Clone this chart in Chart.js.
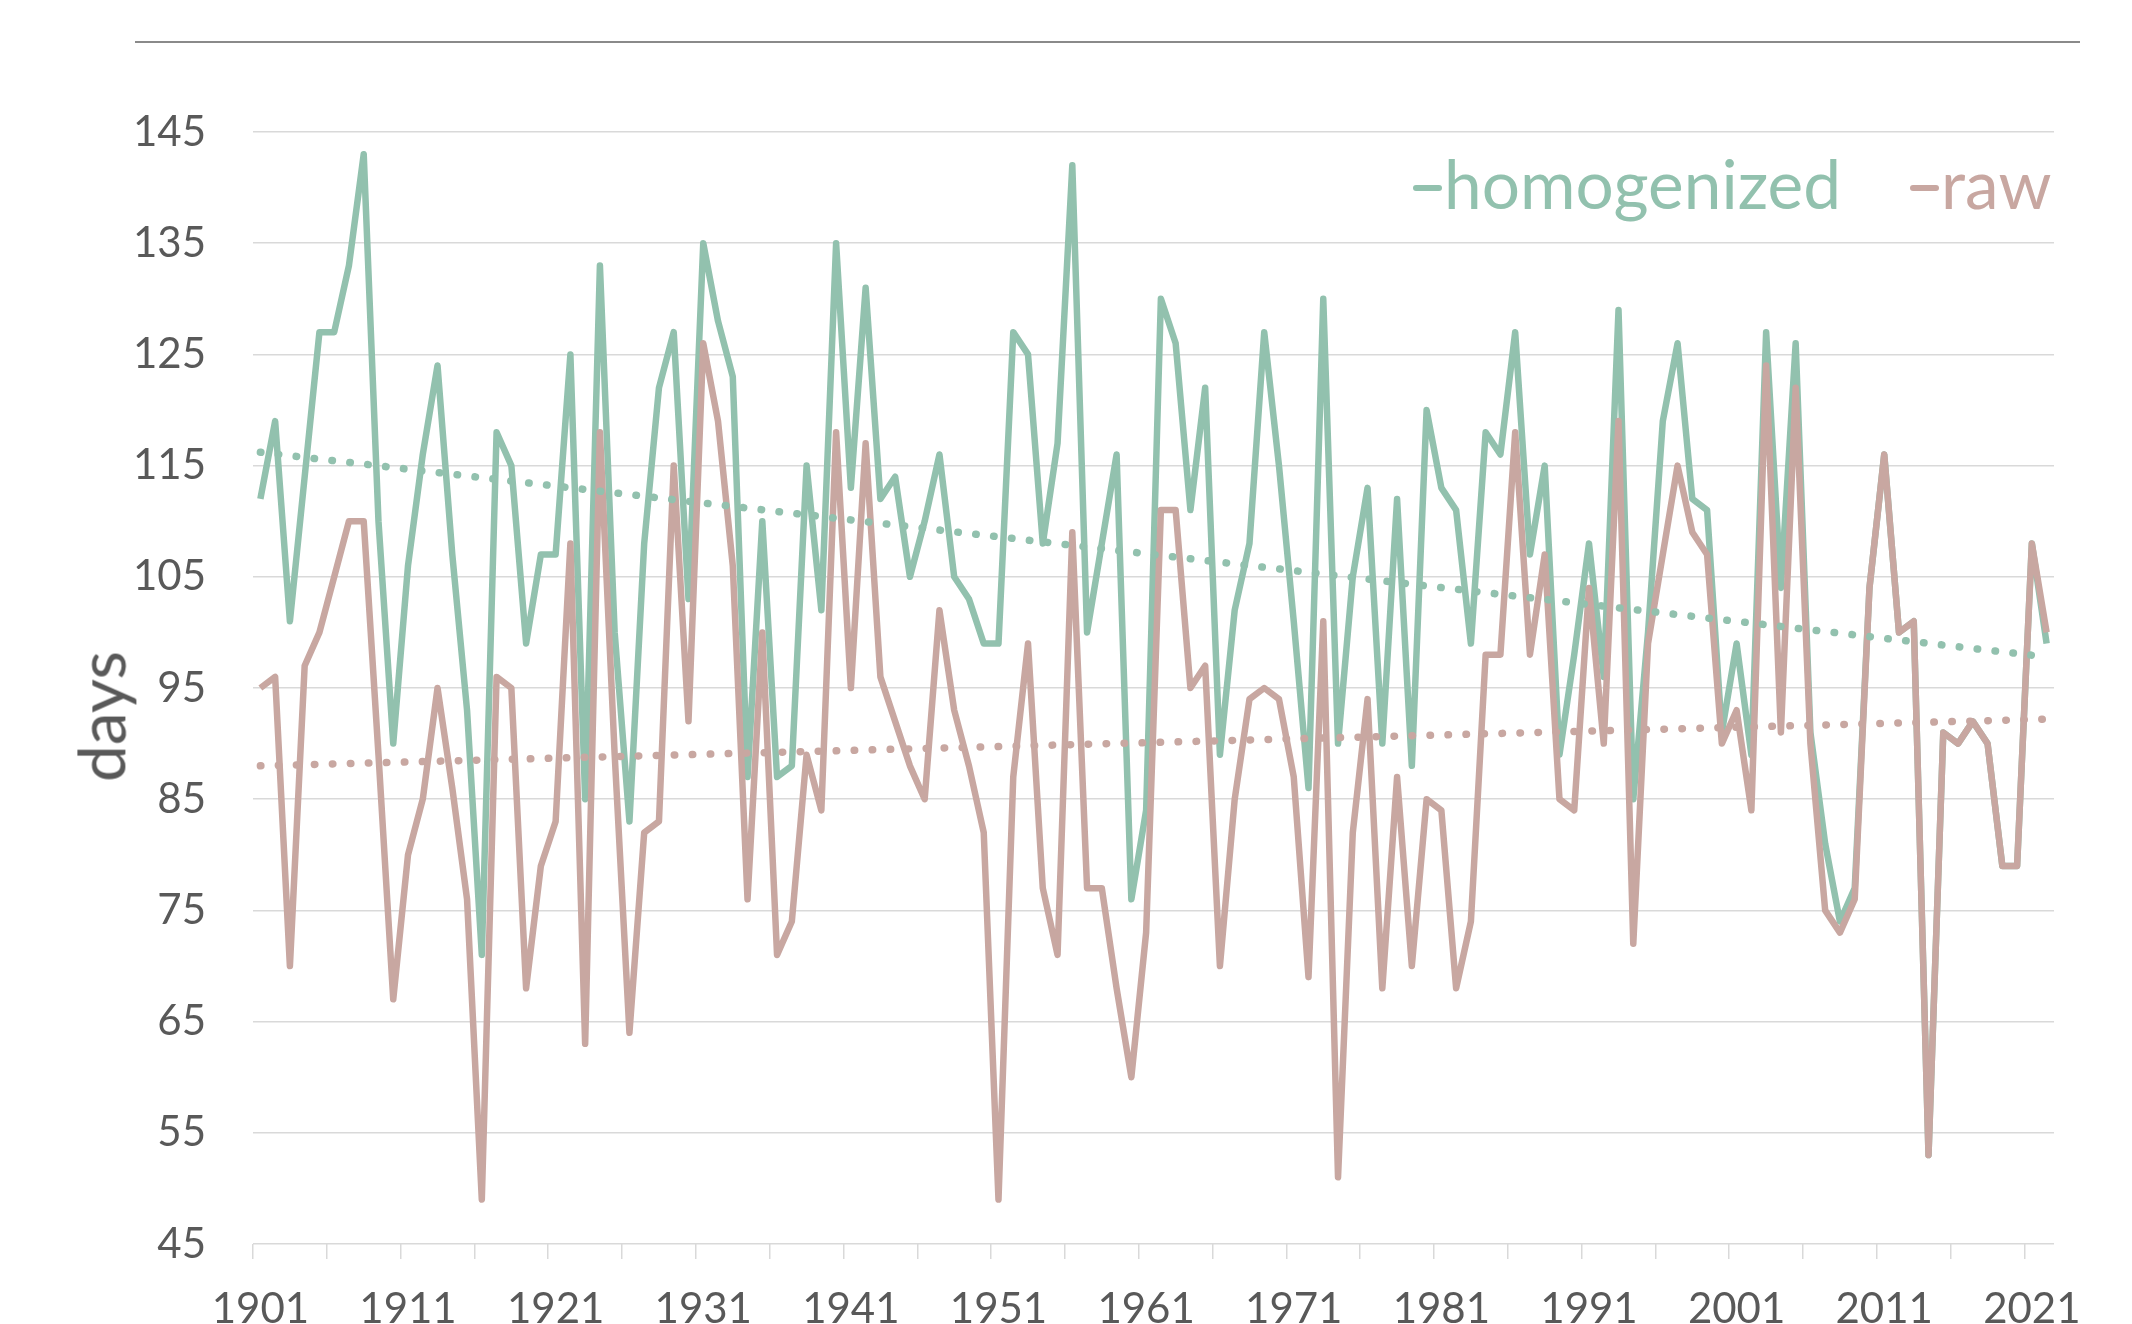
<!DOCTYPE html>
<html>
<head>
<meta charset="utf-8">
<title>days – homogenized vs raw</title>
<script src="https://cdn.jsdelivr.net/npm/chart.js@4.4.1/dist/chart.umd.min.js"></script>
<style>
    body { margin: 0; background: #ffffff; font-family: Lato, sans-serif; }
    #wrap { position: relative; width: 2132px; height: 1324px; overflow: hidden; }
    #topRule { position: absolute; left: 135px; top: 41px; width: 1945px; height: 2px; background: #8a8a8a; }
    .legendItem { position: absolute; top: 149px; font-size: 67.5px; line-height: 67.5px; white-space: nowrap; }
    .legendItem .dash { display: inline-block; width: 29px; height: 6px; border-radius: 3px; margin: 0 2px 18px 0; vertical-align: baseline; }
    #yTitle { position: absolute; left: 0px; top: 677px; width: 200px; font-size: 66px; line-height: 1.2; text-align: center; color: #595959; transform: rotate(-90deg); }
</style>
</head>
<body>
<div id="wrap">
    <div id="topRule"></div>
    <canvas id="daysChart" width="2132" height="1324"></canvas>
    <div id="yTitle">days</div>
    <div id="legend"></div>
</div>
<script>
const years = Array.from({ length: 122 }, (_, i) => String(1901 + i));

const homogenized = [
    112, 119, 101, 114, 127, 127, 133, 143, 110, 90,
    106, 116, 124, 107, 93, 71, 118, 115, 99, 107,
    107, 125, 85, 133, 100, 83, 108, 122, 127, 103,
    135, 128, 123, 87, 110, 87, 88, 115, 102, 135,
    113, 131, 112, 114, 105, 110, 116, 105, 103, 99,
    99, 127, 125, 108, 117, 142, 100, 108, 116, 76,
    84, 130, 126, 111, 122, 89, 102, 108, 127, 115,
    101, 86, 130, 90, 105, 113, 90, 112, 88, 120,
    113, 111, 99, 118, 116, 127, 107, 115, 89, 98,
    108, 96, 129, 85, 100, 119, 126, 112, 111, 91,
    99, 89, 127, 104, 126, 91, 81, 74, 77, 104,
    116, 100, 101, 53, 91, 90, 92, 90, 79, 79,
    108, 99
];

const raw = [
    95, 96, 70, 97, 100, 105, 110, 110, 89, 67,
    80, 85, 95, 86, 76, 49, 96, 95, 68, 79,
    83, 108, 63, 118, 89, 64, 82, 83, 115, 92,
    126, 119, 106, 76, 100, 71, 74, 89, 84, 118,
    95, 117, 96, 92, 88, 85, 102, 93, 88, 82,
    49, 87, 99, 77, 71, 109, 77, 77, 68, 60,
    73, 111, 111, 95, 97, 70, 85, 94, 95, 94,
    87, 69, 101, 51, 82, 94, 68, 87, 70, 85,
    84, 68, 74, 98, 98, 118, 98, 107, 85, 84,
    104, 90, 119, 72, 99, 107, 115, 109, 107, 90,
    93, 84, 124, 91, 122, 90, 75, 73, 76, 104,
    116, 100, 101, 53, 91, 90, 92, 90, 79, 79,
    108, 100
];

// linear trend lines, start and end values
const homogenizedTrend = [116.2, 97.8];
const rawTrend = [88.0, 92.2];

const xTickLabels = ["1901", "1911", "1921", "1931", "1941", "1951", "1961", "1971", "1981", "1991", "2001", "2011", "2021"];
const yMin = 45;
const yMax = 145;
const yStep = 10;

const green = "#92c1ae";
const rose = "#c8a7a1";

function trendPoints(values) {
    return [
        { x: years[0], y: values[0] },
        { x: years[years.length - 1], y: values[1] }
    ];
}

let daysChart;

function createDaysChart() {
    const ctx = document.getElementById("daysChart");

    daysChart = new Chart(ctx, {
        type: "line",
        data: {
            labels: years,
            datasets: [
                {
                    label: "homogenized trend",
                    data: trendPoints(homogenizedTrend),
                    borderColor: green,
                    borderWidth: 7.5,
                    borderDash: [0.5, 17.5],
                    borderCapStyle: "round",
                    pointRadius: 0,
                    fill: false
                },
                {
                    label: "raw trend",
                    data: trendPoints(rawTrend),
                    borderColor: rose,
                    borderWidth: 7.5,
                    borderDash: [0.5, 17.5],
                    borderCapStyle: "round",
                    pointRadius: 0,
                    fill: false
                },
                {
                    label: "raw",
                    data: raw,
                    borderColor: rose,
                    borderWidth: 6.5,
                    borderJoinStyle: "round",
                    pointRadius: 0,
                    tension: 0,
                    fill: false
                },
                {
                    label: "homogenized",
                    data: homogenized,
                    borderColor: green,
                    borderWidth: 6.5,
                    borderJoinStyle: "round",
                    pointRadius: 0,
                    tension: 0,
                    fill: false
                }
            ]
        },
        options: {
            responsive: false,
            animation: false,
            layout: {
                padding: { top: 132, right: 78, left: 0, bottom: 0 }
            },
            plugins: {
                legend: { display: false },
                tooltip: { enabled: false }
            },
            font: { family: "Lato" },
            scales: {
                x: {
                    type: "category",
                    offset: true,
                    border: { display: false },
                    grid: {
                        offset: true,
                        drawOnChartArea: false,
                        tickLength: 15,
                        lineWidth: 1.5,
                        color: c => (c.index % 5 === 0 ? "#d9d9d9" : "rgba(0,0,0,0)"),
                        tickColor: c => (c.index % 5 === 0 ? "#d9d9d9" : "rgba(0,0,0,0)")
                    },
                    ticks: {
                        autoSkip: false,
                        maxRotation: 0,
                        minRotation: 0,
                        padding: 25,
                        color: "#595959",
                        font: { family: "Lato", size: 42 },
                        callback: function (value, index) {
                            const year = years[index];
                            return xTickLabels.includes(year) ? year : "";
                        }
                    },
                    afterFit: function (scale) {
                        scale.height = 80;
                    }
                },
                y: {
                    min: yMin,
                    max: yMax,
                    border: { display: false },
                    grid: {
                        color: "#d9d9d9",
                        lineWidth: 1.5,
                        drawTicks: false
                    },
                    ticks: {
                        stepSize: yStep,
                        padding: 47,
                        color: "#595959",
                        font: { family: "Lato", size: 42 }
                    },
                    afterFit: function (scale) {
                        scale.width = 253;
                    }
                }
            }
        }
    });
}

function buildLegend() {
    const box = document.getElementById("legend");
    const items = [
        { index: 3, left: 1413 },
        { index: 2, left: 1910 }
    ];
    items.forEach(item => {
        const ds = daysChart.data.datasets[item.index];
        const el = document.createElement("div");
        el.className = "legendItem";
        el.style.left = item.left + "px";
        el.style.color = ds.borderColor;
        const dash = document.createElement("span");
        dash.className = "dash";
        dash.style.background = ds.borderColor;
        el.appendChild(dash);
        el.appendChild(document.createTextNode(ds.label));
        box.appendChild(el);
    });
}

document.addEventListener("DOMContentLoaded", function () {
    createDaysChart();
    buildLegend();
});
</script>
</body>
</html>
